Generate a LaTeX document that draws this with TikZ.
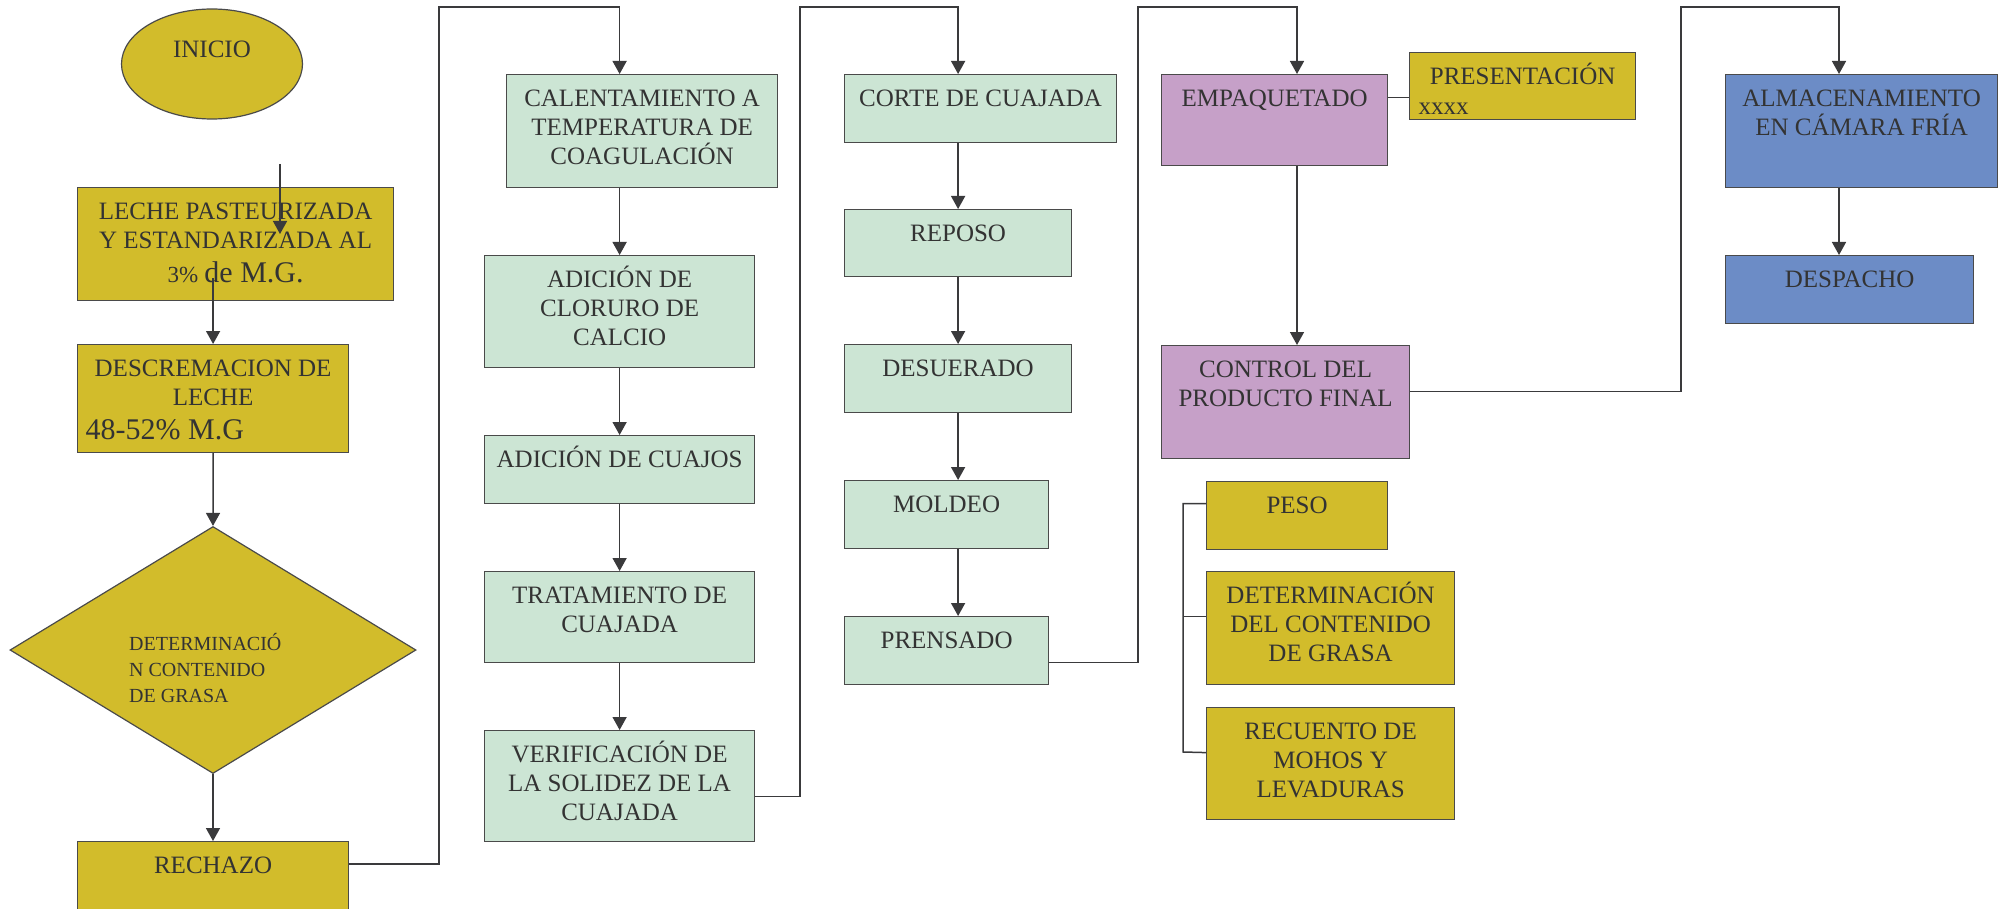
\documentclass[tikz,border=0pt]{standalone}
\usepackage{fontspec}
\setmainfont{Liberation Serif}
\usetikzlibrary{shapes.geometric,arrows.meta}

\definecolor{amarillo}{HTML}{D2BC2B}
\definecolor{verde}{HTML}{CCE5D4}
\definecolor{lila}{HTML}{C6A0C8}
\definecolor{azul}{HTML}{6C8CC6}
\definecolor{borde}{HTML}{4A4A4A}
\definecolor{gris}{HTML}{3A3A3C}
\definecolor{letra}{HTML}{333333}

\newcommand{\fuentecaja}{\fontsize{25}{29}\selectfont}

\tikzset{
  caja/.style n args={3}{rectangle, draw=borde, line width=1.2pt, fill=#1,
    inner sep=0pt, anchor=north west, text=letra,
    execute at begin node={\begin{minipage}[c][#3pt][t]{#2pt}\fuentecaja\centering\rule{0pt}{32pt}},
    execute at end node={\end{minipage}}},
  rotulo/.style={anchor=north west, inner sep=0pt, text=letra,
    execute at begin node={\begin{minipage}[t]{#1pt}\fontsize{20}{26}\selectfont\raggedright\rule{0pt}{20pt}},
    execute at end node={\end{minipage}}},
  inicio/.style={ellipse, draw=borde, line width=1.2pt, fill=amarillo, minimum width=181pt,
    minimum height=110pt, inner sep=0pt, text=letra, font=\fuentecaja},
  decision/.style={diamond, draw=borde, line width=1.2pt, fill=amarillo, minimum width=406pt,
    minimum height=247pt, inner sep=0pt},
  conector/.style={draw=gris, line width=1.5pt},
  flecha/.style={conector, -{Triangle[width=14pt,length=13pt]}},
}

\begin{document}
\begin{tikzpicture}[x=1pt, y=-1pt]
  \useasboundingbox (0,0) rectangle (2007,909);
  \clip (0,0) rectangle (2007,909);

  % columna 1: recepcion de la leche
  \node[inicio] (inicio) at (212,64) {\raisebox{29pt}{INICIO}};
  \node[caja={amarillo}{316}{113}] (leche) at (77,187) {LECHE PASTEURIZADA\\Y ESTANDARIZADA AL\\[5pt]{\fontsize{23}{28}\selectfont 3\%} {\fontsize{30}{30}\selectfont de M.G.}};
  \node[caja={amarillo}{271}{108}] (desc) at (77,344) {DESCREMACION DE\\LECHE\\[5pt]\makebox[\linewidth][l]{\hspace{8pt}\fontsize{30}{30}\selectfont 48-52\% M.G}};
  \node[decision] (det) at (213,650) {};
  \node[rotulo=170] (dettxt) at (129,630) {DETERMINACIÓ\\N CONTENIDO\\DE GRASA};
  \node[caja={amarillo}{271}{100}] (rech) at (77,841) {RECHAZO};

  % columna 2: coagulacion
  \node[caja={verde}{271}{113}] (cal) at (506,74) {CALENTAMIENTO A\\TEMPERATURA DE\\COAGULACIÓN};
  \node[caja={verde}{270}{112}] (clor) at (484,255) {ADICIÓN DE\\CLORURO DE\\CALCIO};
  \node[caja={verde}{270}{68}] (cuaj) at (484,435) {ADICIÓN DE CUAJOS};
  \node[caja={verde}{270}{91}] (trat) at (484,571) {TRATAMIENTO DE\\CUAJADA};
  \node[caja={verde}{270}{111}] (veri) at (484,730) {VERIFICACIÓN DE\\LA SOLIDEZ DE LA\\CUAJADA};

  % columna 3: tratamiento de la cuajada
  \node[caja={verde}{272}{68}] (corte) at (844,74) {CORTE DE CUAJADA};
  \node[caja={verde}{227}{67}] (repo) at (844,209) {REPOSO};
  \node[caja={verde}{227}{68}] (desu) at (844,344) {DESUERADO};
  \node[caja={verde}{204}{68}] (mold) at (844,480) {MOLDEO};
  \node[caja={verde}{204}{68}] (pren) at (844,616) {PRENSADO};

  % columna 4: empaque y control
  \node[caja={lila}{226}{91}] (empa) at (1161,74) {EMPAQUETADO};
  \node[caja={amarillo}{226}{67}] (pres) at (1409,52) {PRESENTACIÓN\\[1pt]\makebox[\linewidth][l]{\hspace{9pt}xxxx}};
  \node[caja={lila}{248}{113}] (ctrl) at (1161,345) {CONTROL DEL\\PRODUCTO FINAL};
  \node[caja={amarillo}{181}{68}] (peso) at (1206,481) {PESO};
  \node[caja={amarillo}{248}{113}] (detg) at (1206,571) {DETERMINACIÓN\\DEL CONTENIDO\\DE GRASA};
  \node[caja={amarillo}{248}{112}] (recu) at (1206,707) {RECUENTO DE\\MOHOS Y\\LEVADURAS};

  % columna 5: almacenamiento
  \node[caja={azul}{272}{113}] (alma) at (1725,74) {ALMACENAMIENTO\\EN CÁMARA FRÍA};
  \node[caja={azul}{248}{68}] (desp) at (1725,255) {DESPACHO};

  % puntos de paso
  \coordinate (s1) at (280,164);
  \coordinate (s2) at (280,234);
  \coordinate (k1) at (439,7);
  \coordinate (k2) at (800,7);
  \coordinate (k3) at (1138,7);
  \coordinate (k4) at (1681,7);
  \coordinate (e4) at (1297,7);
  \coordinate (e5) at (1839,7);
  \coordinate (b1) at (1183,752);

  % conexiones
  \draw[flecha] (s1) -- (s2);
  \draw[flecha] ([yshift=23pt]leche.south -| desc.north) -- (desc.north);
  \draw[flecha] (desc.south) -- (det.north);
  \draw[flecha] (det.south) -- (rech.north -| det.south);
  \draw[flecha] ([yshift=-23pt]rech.north east) -| (k1) -| (cal.north -| clor.north);
  \draw[flecha] (cal.south -| clor.north) -- (clor.north);
  \foreach \a/\b in {clor/cuaj, cuaj/trat, trat/veri}
    \draw[flecha] (\a.south) -- (\b.north);
  \draw[flecha] ([yshift=-10.5pt]veri.east) -| (k2) -| (corte.north -| repo.north);
  \draw[flecha] (corte.south -| repo.north) -- (repo.north);
  \foreach \a/\b in {repo/desu, desu/mold, mold/pren}
    \draw[flecha] (\a.south -| repo.south) -- (\b.north -| repo.south);
  \draw[flecha] ([yshift=-12pt]pren.east) -| (k3) -- (e4) -- (empa.north -| e4);
  \draw[conector] ([yshift=22.5pt]empa.east) -- ([yshift=22.5pt]empa.east -| pres.west);
  \draw[flecha] (empa.south -| e4) -- (ctrl.north -| e4);
  \draw[flecha] ([yshift=10.5pt]ctrl.east) -| (k4) -- (e5) -- (alma.north -| e5);
  \draw[flecha] (alma.south -| e5) -- (desp.north -| e5);
  % controles del producto final
  \draw[conector] ([yshift=12pt]peso.west) -| (b1) -- ([yshift=11pt]recu.west);
  \draw[conector] ([yshift=11.5pt]detg.west -| b1) -- ([yshift=11.5pt]detg.west);
\end{tikzpicture}
\end{document}
